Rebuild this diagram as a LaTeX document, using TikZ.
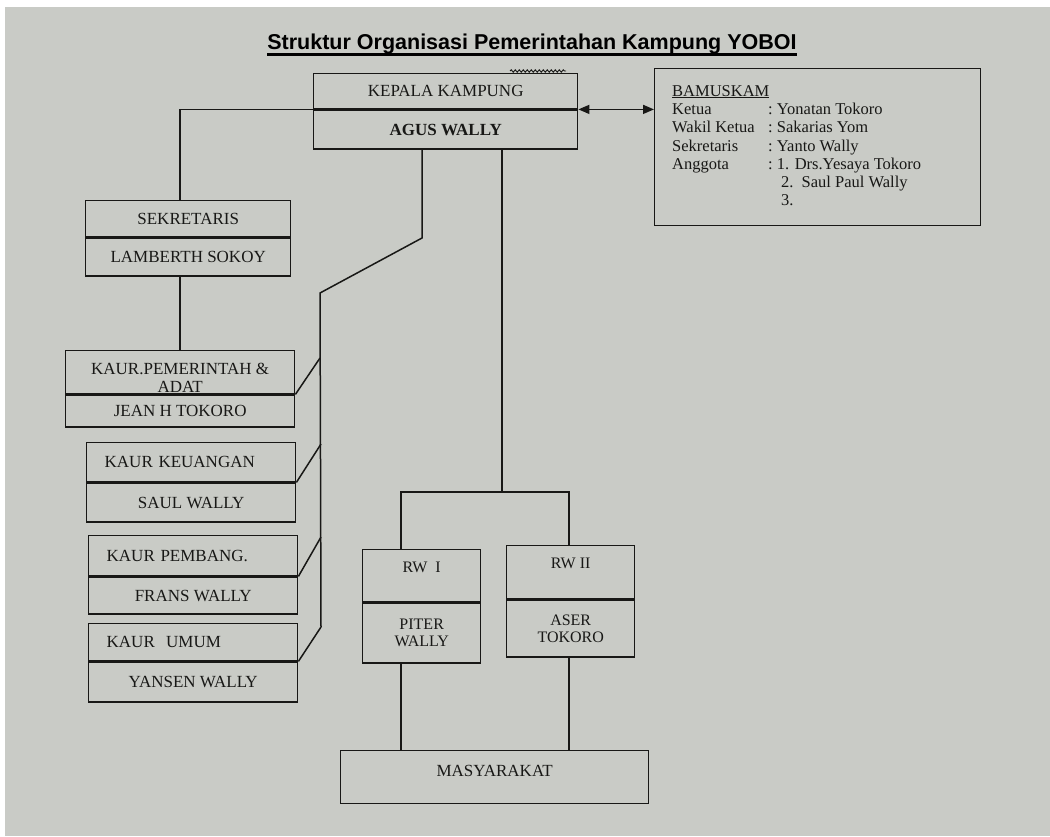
\documentclass[tikz,border=0pt]{standalone}
\usepackage{fontspec}
\setmainfont{Liberation Serif}
\newfontfamily\judulfont{Liberation Sans}
\usetikzlibrary{calc,arrows.meta,positioning,decorations.pathmorphing}
\definecolor{kertas}{RGB}{201,203,198}
\definecolor{tinta}{RGB}{24,24,22}

\begin{document}
\begin{tikzpicture}[x=1pt,y=-1pt,
  garis/.style={draw=tinta,line width=1.5pt},
  sel/.style={draw=tinta,line width=1.4pt,inner sep=0pt,text=tinta,
    font=\fontsize{17}{19}\selectfont,align=center},
  kaursel/.style={sel,text width=173pt,inner xsep=18pt,align=left},
  rwsel/.style={sel,font=\fontsize{16}{17}\selectfont},
  teks/.style={text=tinta,inner sep=0pt,align=center,font=\fontsize{17}{18}\selectfont}]
  \useasboundingbox (0,0) rectangle (1050,836);
  \fill[white] (0,0) rectangle (1050,836);
  \fill[kertas] (5,7) rectangle (1050,836);

  \node[font=\judulfont\bfseries\fontsize{21.5}{24}\selectfont,inner sep=0pt] (judul) at (532,44)
    {Struktur Organisasi Pemerintahan Kampung YOBOI};
  \draw[line width=2.4pt] ($(judul.base west)+(0,5)$) -- ($(judul.base east)+(0,5)$);

  \node[sel,minimum width=264pt,minimum height=35pt,anchor=north west] (kepala) at (313,73) {KEPALA KAMPUNG};
  \node[sel,minimum width=264pt,minimum height=39pt,below=0pt of kepala,
    font=\bfseries\fontsize{17}{19}\selectfont] (kepalanama) {AGUS WALLY};
  \draw[tinta,line width=0.9pt,decorate,decoration={snake,segment length=4pt,amplitude=1.2pt}]
    (510,71) -- (566,71);

  \node[draw=tinta,line width=1.4pt,minimum width=326pt,minimum height=157pt,
    anchor=north west,inner sep=0pt] (bamuskam) at (654,68) {};
  \node[anchor=north west,align=left,inner sep=0pt,text=tinta,
    font=\fontsize{16.5}{18.3}\selectfont] (anggota) at (672,85)
    {\underline{BAMUSKAM}\\
     \makebox[96pt][l]{Ketua}:\ Yonatan Tokoro\\
     \makebox[96pt][l]{Wakil Ketua}:\ Sakarias Yom\\
     \makebox[96pt][l]{Sekretaris}:\ Yanto Wally\\
     \makebox[96pt][l]{Anggota}:\ 1. Drs.Yesaya Tokoro\\
     \makebox[96pt][l]{}\phantom{:}\ \ 2.\ \ Saul Paul Wally\\
     \makebox[96pt][l]{}\phantom{:}\ \ 3.};
  \draw[garis,{Triangle[length=11pt,width=9pt]}-{Triangle[length=11pt,width=9pt]}]
    (kepala.south east) -- (kepala.south east -| bamuskam.west);

  \node[sel,minimum width=205pt,minimum height=36pt,anchor=north west] (sekre) at (85,200) {SEKRETARIS};
  \node[sel,minimum width=205pt,minimum height=38pt,below=0pt of sekre] (sekrenama) {LAMBERTH SOKOY};

  \node[sel,minimum width=229pt,minimum height=43pt,anchor=north west,
    label={[teks,yshift=-6pt]center:KAUR.PEMERINTAH \&\\ADAT}] (kaurpem) at (65,350) {};
  \node[sel,minimum width=229pt,minimum height=32pt,below=0pt of kaurpem] (kaurpemnama) {JEAN H TOKORO};

  \node[kaursel,minimum height=39pt,anchor=north west] (kaurkeu) at (86,442) {KAUR KEUANGAN};
  \node[sel,minimum width=209pt,minimum height=39pt,below=0pt of kaurkeu] (kaurkeunama) {SAUL WALLY};

  \node[kaursel,minimum height=40pt,anchor=north west] (kaurbang) at (88,535) {KAUR PEMBANG.};
  \node[sel,minimum width=209pt,minimum height=37pt,below=0pt of kaurbang] (kaurbangnama) {FRANS WALLY};

  \node[kaursel,minimum height=37pt,anchor=north west] (kaurumum) at (88,623) {KAUR\ \ UMUM};
  \node[sel,minimum width=209pt,minimum height=40pt,below=0pt of kaurumum] (kaurumumnama) {YANSEN WALLY};

  \node[rwsel,minimum width=118pt,minimum height=52pt,anchor=north west,
    label={[teks,font=\fontsize{16}{17}\selectfont,yshift=8pt]center:RW\ \ I}] (rw1) at (362,549) {};
  \node[rwsel,minimum width=118pt,minimum height=60pt,below=0pt of rw1] (rw1nama) {PITER\\WALLY};
  \node[rwsel,minimum width=128pt,minimum height=53pt,anchor=north west,
    label={[teks,font=\fontsize{16}{17}\selectfont,yshift=8.5pt]center:RW II}] (rw2) at (506,545) {};
  \node[rwsel,minimum width=128pt,minimum height=57pt,below=0pt of rw2] (rw2nama) {ASER\\TOKORO};

  \node[sel,minimum width=308pt,minimum height=53pt,anchor=north west,
    label={[teks,yshift=6pt]center:MASYARAKAT}] (masy) at (340,750) {};

  \coordinate (tekuk1) at (422,238);
  \coordinate (tekuk2) at (320,293);
  \coordinate (cabang1) at (320,358);
  \coordinate (cabang2) at (321,444);
  \coordinate (cabang3) at (321,537);
  \coordinate (cabang4) at (321,627);
  \coordinate (bagi) at (502,492);
  \coordinate (cabkiri) at (401,492);
  \coordinate (cabkanan) at (569,492);

  \draw[garis] (kepala.south west) -| (kaurpem.north |- sekre.north);
  \draw[garis] (sekrenama.south -| kaurpem.north) -- (kaurpem.north);
  \draw[garis] (kepalanama.south -| tekuk1) -- (tekuk1) -- (tekuk2) -- (cabang4);
  \draw[garis] (cabang1) -- (kaurpem.south east);
  \draw[garis] (cabang2) -- (kaurkeu.south east);
  \draw[garis] (cabang3) -- (kaurbang.south east);
  \draw[garis] (cabang4) -- (kaurumum.south east);
  \draw[garis] (kepalanama.south -| bagi) -- (bagi);
  \draw[garis] (rw1.north -| cabkiri) -- (cabkiri) -- (cabkanan) -- (rw2.north -| cabkanan);
  \draw[garis] (rw1nama.south -| cabkiri) -- (masy.north -| cabkiri);
  \draw[garis] (rw2nama.south -| cabkanan) -- (masy.north -| cabkanan);
\end{tikzpicture}
\end{document}
